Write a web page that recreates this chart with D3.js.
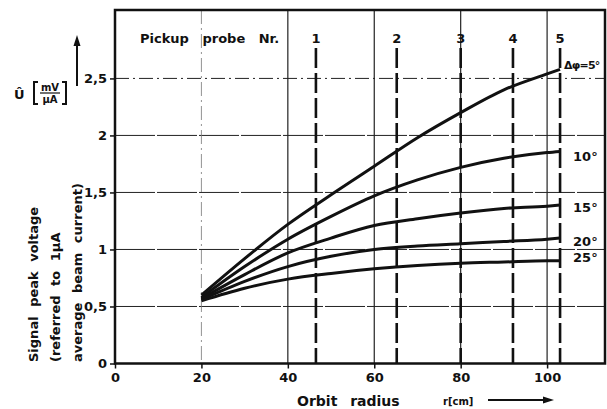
<!DOCTYPE html>
<html>
<head>
<meta charset="utf-8">
<script src="https://cdn.jsdelivr.net/npm/d3@7"></script>
<style>
  body { margin: 0; background: #fff; }
  text { font-family: "DejaVu Sans", "Liberation Sans", sans-serif; font-weight: bold; fill: #111; }
</style>
</head>
<body>
<div id="chart"></div>
<script>
// orbit radius sample points (cm)
const radius = [20, 30, 40, 50, 60, 70, 80, 90, 100, 103];

// signal peak voltage per phase spread (mV/uA)
const seriesNames = ["\u0394\u03c6=5\u00b0", "10\u00b0", "15\u00b0", "20\u00b0", "25\u00b0"];
const v5  = [0.60, 0.92, 1.22, 1.48, 1.73, 1.98, 2.20, 2.40, 2.54, 2.58];
const v10 = [0.58, 0.85, 1.09, 1.29, 1.47, 1.61, 1.72, 1.80, 1.85, 1.86];
const v15 = [0.57, 0.78, 0.97, 1.10, 1.21, 1.27, 1.32, 1.36, 1.38, 1.39];
const v20 = [0.56, 0.72, 0.85, 0.94, 1.00, 1.03, 1.05, 1.07, 1.09, 1.10];
const v25 = [0.55, 0.66, 0.74, 0.79, 0.83, 0.86, 0.88, 0.89, 0.90, 0.90];

// pickup probe positions
const probeNames = ["1", "2", "3", "4", "5"];
const probeR = [46.5, 65.2, 80, 92.1, 103];

// ticks
const xTicks = [0, 20, 40, 60, 80, 100];
const yTicks = [0, 0.5, 1, 1.5, 2, 2.5];
const yTickLabels = ["0", "0,5", "1", "1,5", "2", "2,5"];

function draw_chart() {
  const width = 607, height = 409;
  const margin = { top: 10, right: 2, bottom: 45.5, left: 115 };
  const innerW = width - margin.left - margin.right;
  const innerH = height - margin.top - margin.bottom;

  const svg = d3.select("#chart").append("svg")
    .attr("width", width)
    .attr("height", height);

  const chart = svg.append("g")
    .attr("transform", `translate(${margin.left},${margin.top})`);

  const x = d3.scaleLinear().domain([0, 113.4]).range([0, innerW]);
  const y = d3.scaleLinear().domain([0, 3.1]).range([innerH, 0]);

  // grid
  chart.selectAll("line.hgrid")
    .data(yTicks.slice(1))
    .enter().append("line")
    .attr("x1", 0).attr("x2", innerW)
    .attr("y1", d => y(d)).attr("y2", d => y(d))
    .attr("stroke", "#222")
    .attr("stroke-width", 1)
    .attr("stroke-dasharray", d => d === 2.5 ? "14 4 2 4" : "40 2");

  chart.selectAll("line.vgrid")
    .data(xTicks.slice(1))
    .enter().append("line")
    .attr("x1", d => x(d)).attr("x2", d => x(d))
    .attr("y1", 0).attr("y2", innerH)
    .attr("stroke", d => d === 20 ? "#777" : "#222")
    .attr("stroke-width", d => d === 20 ? 0.8 : 1.2)
    .attr("stroke-dasharray", d => d === 20 ? "14 4 2 4" : null);

  // probe lines
  chart.selectAll("line.probe")
    .data(probeR)
    .enter().append("line")
    .attr("x1", d => x(d)).attr("x2", d => x(d))
    .attr("y1", 38).attr("y2", innerH)
    .attr("stroke", "#111")
    .attr("stroke-width", 2.6)
    .attr("stroke-dasharray", "20 5");

  chart.selectAll("text.probe")
    .data(probeR)
    .enter().append("text")
    .attr("x", d => x(d))
    .attr("y", 33)
    .attr("text-anchor", "middle")
    .attr("font-size", "13px")
    .text((d, i) => probeNames[i]);

  chart.append("text")
    .attr("x", 25)
    .attr("y", 33)
    .attr("font-size", "13px")
    .attr("word-spacing", "9px")
    .text("Pickup probe Nr.");

  // curves
  const allSeries = [v5, v10, v15, v20, v25];
  const line = d3.line()
    .x((d, i) => x(radius[i]))
    .y(d => y(d))
    .curve(d3.curveMonotoneX);

  chart.selectAll("path.curve")
    .data(allSeries)
    .enter().append("path")
    .attr("fill", "none")
    .attr("stroke", "#111")
    .attr("stroke-width", 3)
    .attr("stroke-linejoin", "round")
    .attr("d", line);

  // curve labels
  const labelDy = [-3, 6, 4, 4, -2];
  chart.selectAll("text.curve")
    .data(allSeries)
    .enter().append("text")
    .attr("x", (d, i) => i === 0 ? x(radius[radius.length - 1]) + 4 : x(radius[radius.length - 1]) + 13)
    .attr("y", (d, i) => y(d[d.length - 1]) + labelDy[i])
    .attr("font-size", (d, i) => i === 0 ? "11px" : "13px")
    .attr("letter-spacing", (d, i) => i === 0 ? "-0.8px" : null)
    .attr("dominant-baseline", "middle")
    .text((d, i) => seriesNames[i]);

  // axes
  const xAxis = chart.append("g")
    .attr("transform", `translate(0,${innerH})`)
    .call(d3.axisBottom(x).tickValues(xTicks).tickSize(5).tickPadding(4));
  xAxis.selectAll("text").attr("font-size", "13px").attr("fill", "#111");

  const yAxis = chart.append("g")
    .call(d3.axisLeft(y).tickValues(yTicks).tickSize(5).tickPadding(3)
      .tickFormat((d, i) => yTickLabels[i]));
  yAxis.selectAll("text").attr("font-size", "13px").attr("fill", "#111");

  chart.selectAll(".domain").remove();
  chart.selectAll(".tick line").attr("stroke", "#111").attr("stroke-width", 1.5);

  // frame
  chart.append("rect")
    .attr("width", innerW)
    .attr("height", innerH)
    .attr("fill", "none")
    .attr("stroke", "#111")
    .attr("stroke-width", 2.5);

  // y title
  const yTitle = ["Signal peak voltage", "(referred to 1\u03bcA", "average beam current)"];
  svg.selectAll("text.ytitle")
    .data(yTitle)
    .enter().append("text")
    .attr("transform", (d, i) => `translate(${38 + i * 22},362) rotate(-90)`)
    .attr("font-size", "13px")
    .attr("word-spacing", "5px")
    .text(d => d);

  // unit label with arrow
  svg.append("text")
    .attr("x", 14).attr("y", 99)
    .attr("font-size", "13px")
    .text("\u00db");
  const unit = svg.append("g").attr("transform", "translate(0,93)");
  unit.append("path")
    .attr("d", "M38,-11 L34,-11 L34,11 L38,11 M62,-11 L66,-11 L66,11 L62,11")
    .attr("fill", "none").attr("stroke", "#111").attr("stroke-width", 2);
  unit.append("text").attr("x", 50).attr("y", -2).attr("text-anchor", "middle").attr("font-size", "10px").text("mV");
  unit.append("line").attr("x1", 40).attr("x2", 60).attr("y1", 0).attr("y2", 0).attr("stroke", "#111").attr("stroke-width", 1.2);
  unit.append("text").attr("x", 50).attr("y", 10).attr("text-anchor", "middle").attr("font-size", "10px").text("\u03bcA");

  svg.append("line")
    .attr("x1", 77).attr("x2", 77).attr("y1", 44).attr("y2", 86)
    .attr("stroke", "#111").attr("stroke-width", 2);
  svg.append("path")
    .attr("d", "M77,35 L73.5,46 L80.5,46 Z")
    .attr("fill", "#111");

  // x title with arrow
  svg.append("text")
    .attr("x", 297).attr("y", 406)
    .attr("font-size", "14px")
    .attr("word-spacing", "8px")
    .text("Orbit radius");
  svg.append("text")
    .attr("x", 443).attr("y", 405)
    .attr("font-size", "10px")
    .text("r[cm]");
  svg.append("line")
    .attr("x1", 488).attr("x2", 545).attr("y1", 400).attr("y2", 400)
    .attr("stroke", "#111").attr("stroke-width", 2);
  svg.append("path")
    .attr("d", "M554,400 L543,396.5 L543,403.5 Z")
    .attr("fill", "#111");
}

draw_chart();
</script>
</body>
</html>
